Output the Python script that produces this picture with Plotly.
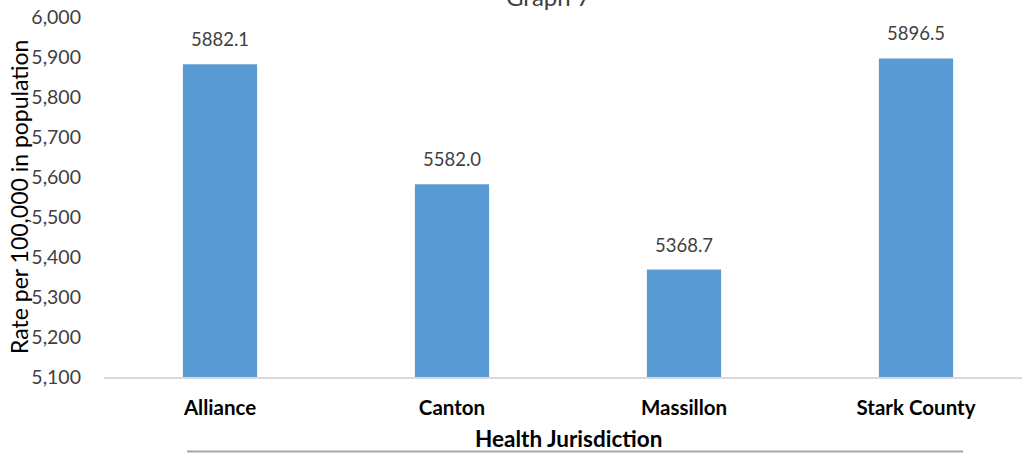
import plotly.graph_objects as go

categories = ["Alliance", "Canton", "Massillon", "Stark County"]
rates = [5882.1, 5582.0, 5368.7, 5896.5]
tick_vals = [5100, 5200, 5300, 5400, 5500, 5600, 5700, 5800, 5900, 6000]
tick_text = ["5,100", "5,200", "5,300", "5,400", "5,500", "5,600", "5,700", "5,800", "5,900", "6,000"]

W, H = 1022, 453
L, R, T, B = 104, 0, 17, 76
pw = W - L - R
ph = H - T - B

def px_to_paper_x(px):
    return (px - L) / pw

def px_to_paper_y(py):
    return (H - B - py) / ph

FONT = "Lato"

fig = go.Figure()
fig.add_trace(go.Bar(
    x=list(range(len(categories))), y=rates,
    marker=dict(color="#5B9BD5", line=dict(width=0)),
    width=0.32,
    hoverinfo="skip",
))

for i, v in enumerate(rates):
    fig.add_annotation(x=i, y=v, xref="x", yref="y", text=f"{v:.1f}",
                       showarrow=False, xanchor="center", yanchor="bottom", yshift=12,
                       font=dict(family=FONT, size=18.5, color="#404040"))

fig.add_annotation(x=px_to_paper_x(19), y=0.5, xref="paper", yref="paper",
                   xanchor="center", yanchor="middle",
                   text="Rate per 100,000 in population", textangle=-90,
                   showarrow=False, font=dict(family=FONT, size=23, color="#000000"))

fig.add_annotation(x=px_to_paper_x(568), y=px_to_paper_y(438), xref="paper", yref="paper",
                   xanchor="center", yanchor="middle",
                   text="<b>Health Jurisdiction</b>", showarrow=False,
                   font=dict(family=FONT, size=22.5, color="#000000"))

fig.add_annotation(x=px_to_paper_x(548), y=px_to_paper_y(-3), xref="paper", yref="paper",
                   xanchor="center", yanchor="middle",
                   text="Graph 7", showarrow=False,
                   font=dict(family=FONT, size=24, color="#404040"))

fig.add_shape(type="line", xref="paper", yref="paper",
              x0=px_to_paper_x(187), x1=px_to_paper_x(963),
              y0=px_to_paper_y(451.5), y1=px_to_paper_y(451.5),
              line=dict(color="#a6a6a6", width=2))

fig.update_layout(
    width=W, height=H,
    margin=dict(l=L, r=R, t=T, b=B, pad=0),
    paper_bgcolor="white", plot_bgcolor="white",
    showlegend=False,
    xaxis=dict(
        range=[-0.5, -0.5 + pw / 232.0],
        tickmode="array", tickvals=list(range(len(categories))),
        ticktext=[f"<b>{c}</b>" for c in categories],
        tickfont=dict(family=FONT, size=20.5, color="#000000"),
        showgrid=False, zeroline=False,
        showline=True, linecolor="#d9d9d9", linewidth=2,
        ticks="", ticklabelstandoff=11,
    ),
    yaxis=dict(
        range=[5100, 6000],
        tickmode="array", tickvals=tick_vals, ticktext=tick_text,
        tickfont=dict(family=FONT, size=19.5, color="#404040"),
        showgrid=False, zeroline=False, showline=False,
        ticks="", ticklabelstandoff=22,
    ),
)

fig.write_html("out.html", config={"displayModeBar": False},
               post_script="document.body.style.margin='0';")
